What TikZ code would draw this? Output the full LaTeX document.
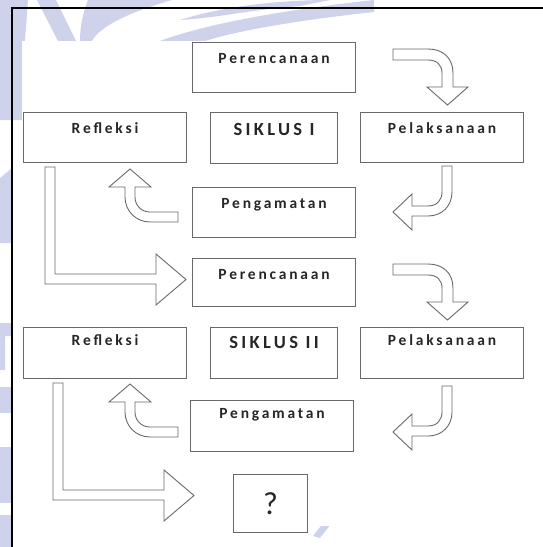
\documentclass[tikz,border=0pt]{standalone}
\usepackage{fontspec}
\newfontfamily\stagefont[LetterSpace=18]{Carlito-Bold}
\newfontfamily\plainfont{Carlito}
\usetikzlibrary{calc}
\definecolor{wmark}{RGB}{206,210,234}
\definecolor{boxline}{RGB}{105,105,105}

\tikzset{
  stage/.style={draw=boxline, line width=1.1pt, inner sep=0pt, anchor=north west,
    minimum width=163pt, text height=20.5pt, text depth=29.5pt, text=black!85,
    font=\stagefont\fontsize{15.5}{17}\selectfont},
  cyclebox/.style={stage, minimum width=127pt, text height=23pt, text depth=28pt,
    font=\stagefont\fontsize{18.5}{20}\selectfont},
  blockarrow/.style={draw=boxline, fill=white, line width=0.9pt},
  wm/.style={fill=wmark, draw=none},
  % bent arrow: right, then down
  pics/turnright/.style={code={
    \draw[blockarrow] (0,0) -- (35,0) .. controls (50,0) and (60,9) .. (60,24)
      -- (60,38) -- (75,38) -- (54.5,56) -- (34,38) -- (49,38) -- (49,24)
      .. controls (49,16) and (44,11) .. (35,11) -- (0,11) -- cycle;}},
  % bent arrow: down, then left
  pics/turndown/.style={code={
    \draw[blockarrow] (0,0) -- (10,0) -- (10,26) .. controls (10,40) and (0,50) .. (-14,50)
      -- (-30,50) -- (-30,64) -- (-49,46) -- (-30,28) -- (-30,40) -- (-14,40)
      .. controls (-5,40) and (0,34) .. (0,26) -- cycle;}},
  % bent arrow: left, then up
  pics/turnup/.style={code={
    \draw[blockarrow] (0,0) -- (0,10) -- (-28,10) .. controls (-42,10) and (-53,-1) .. (-53,-15)
      -- (-53,-25) -- (-69,-25) -- (-48,-43) -- (-27,-25) -- (-43,-25) -- (-43,-15)
      .. controls (-43,-7) and (-37,0) .. (-28,0) -- cycle;}},
  % long L arrow to the next cycle
  pics/nextcycle/.style={code={
    \draw[blockarrow] (0,0) -- (10,0) -- (10,107) -- (111,107) -- (111,87) -- (141,112.5)
      -- (111,138) -- (111,117) -- (0,117) -- cycle;}}
}

\begin{document}
\begin{tikzpicture}[x=1pt,y=-1pt]
\useasboundingbox (0,0) rectangle (543,547);

% watermark behind the figure
\fill[wm] (0,0) -- (28,0) -- (25,41) -- (22,41) -- (22,120) -- (0,120) -- cycle;
\fill[wm] (37,0) -- (56,0) -- (76,41) -- (58,41) -- cycle;
\fill[wm] (88,0) -- (172,0) .. controls (130,12) and (100,26) .. (92,41) -- (80,41)
  .. controls (80,24) and (84,10) .. (88,0) -- cycle;
\fill[wm] (160,41) .. controls (210,22) and (300,8) .. (374,0) -- (374,12)
  .. controls (300,20) and (240,30) .. (205,41) -- cycle;
\fill[wm] (180,20) .. controls (230,4) and (290,0) .. (330,0) -- (300,6)
  .. controls (250,10) and (215,18) .. (180,20) -- cycle;
\fill[wm] (0,178) -- (12,168) -- (12,243) -- (0,243) -- cycle;
\fill[wm] (0,323) -- (12,323) -- (12,336) -- (5,336) -- (5,370) -- (0,370) -- cycle;
\fill[wm] (0,387) -- (12,387) -- (12,413) -- (0,413) -- cycle;
\fill[wm] (0,447) -- (12,447) -- (12,503) -- (0,503) -- cycle;
\fill[wm] (0,515) -- (12,515) -- (12,547) -- (0,547) -- cycle;
\fill[wm] (313,536) -- (324,522) -- (331,524) -- (320,538) -- cycle;
\fill[white] (22,41) rectangle (543,526);

% frame
\draw[line width=1.4pt] (12,547) -- (12,8) -- (543,8);

% siklus I
\node[stage] (plan1) at (192,42) {Perencanaan};
\node[stage] (refl1) at (23,112) {Refleksi};
\node[cyclebox] (cyc1) at (210,112) {SIKLUS I};
\node[stage] (act1) at (360,112) {Pelaksanaan};
\node[stage] (obs1) at (192,187) {Pengamatan};

% siklus II
\node[stage, text depth=27.5pt] (plan2) at (192,258) {Perencanaan};
\node[stage, text height=18pt, text depth=33pt] (refl2) at (23,327) {Refleksi};
\node[cyclebox, text height=21pt, text depth=30pt] (cyc2) at (210,327) {SIKLUS II};
\node[stage, text height=18pt, text depth=33pt] (act2) at (360,327) {Pelaksanaan};
\node[stage, text height=18pt, text depth=33pt] (obs2) at (190,400) {Pengamatan};
\node[draw=boxline, line width=1.1pt, minimum width=74pt, minimum height=58pt,
  anchor=north west, text=black!85, font=\plainfont\fontsize{32}{34}\selectfont] (ques) at (233,474) {?};

% arrows
\pic at (393,49) {turnright};
\pic at (442,166) {turndown};
\pic at (178,212) {turnup};
\pic at (45,167) {nextcycle};
\pic at (393,264) {turnright};
\pic at (442,386) {turndown};
\pic at (178,427) {turnup};
\pic at (53,383) {nextcycle};
\end{tikzpicture}
\end{document}
